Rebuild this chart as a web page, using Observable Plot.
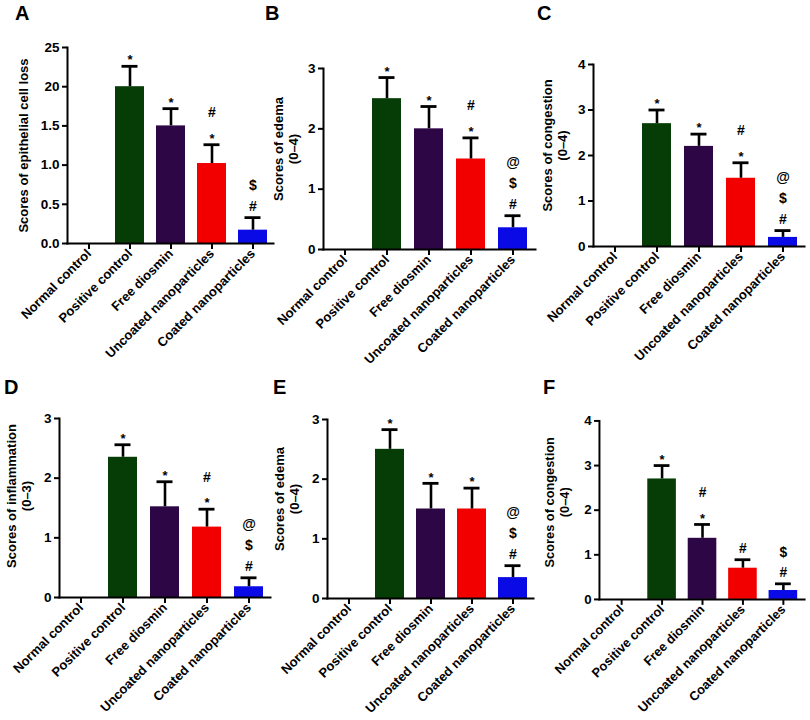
<!DOCTYPE html>
<html><head><meta charset="utf-8">
<script src="https://cdn.jsdelivr.net/npm/d3@7"></script>
<script src="https://cdn.jsdelivr.net/npm/@observablehq/plot@0.6"></script>
<style>
body{margin:0;background:#fff;}
#wrap{position:relative;width:810px;height:720px;overflow:hidden;font-family:"Liberation Sans",Arial,sans-serif;background:#fff;}
.panel{position:absolute;}
.letter{position:absolute;font-weight:bold;font-size:20px;line-height:1;font-family:"Liberation Sans",Arial,sans-serif;}
</style></head><body><div id="wrap"></div>
<script>
// ---- data ----
const groups = ["Normal control","Positive control","Free diosmin","Uncoated nanoparticles","Coated nanoparticles"];
const barColors = ["#ffffff","#063d06","#2d0645","#f20000","#0a0ae6"];

const meanA = [0, 2.0, 1.5, 1.02, 0.17];
const upperA = [0, 2.26, 1.72, 1.26, 0.33];
const sigA = ["", "*", "*", "*#", "#$"];
const ticksA = [0, 0.5, 1, 1.5, 2, 2.5];
const tickLabelsA = ["0.0","0.5","1.0","1.5","20","25"];
const titleA = "Scores of epithelial cell loss";

const meanB = [0, 2.5, 2.0, 1.5, 0.36];
const upperB = [0, 2.85, 2.37, 1.85, 0.56];
const sigB = ["", "*", "*", "*#", "#$@"];
const ticksB = [0, 1, 2, 3];
const tickLabelsB = ["0","1","2","3"];
const titleB = "Scores of edema\n(0–4)";

const meanC = [0, 2.7, 2.2, 1.5, 0.2];
const upperC = [0, 3.0, 2.47, 1.84, 0.35];
const sigC = ["", "*", "*", "*#", "#$@"];
const ticksC = [0, 1, 2, 3, 4];
const tickLabelsC = ["0","1","2","3","4"];
const titleC = "Scores of congestion\n(0–4)";

const meanD = [0, 2.35, 1.52, 1.18, 0.18];
const upperD = [0, 2.56, 1.94, 1.48, 0.33];
const sigD = ["", "*", "*", "*#", "#$@"];
const ticksD = [0, 1, 2, 3];
const tickLabelsD = ["0","1","2","3"];
const titleD = "Scores of inflammation\n(0–3)";

const meanE = [0, 2.5, 1.5, 1.5, 0.35];
const upperE = [0, 2.83, 1.93, 1.85, 0.55];
const sigE = ["", "*", "*", "*", "#$@"];
const ticksE = [0, 1, 2, 3];
const tickLabelsE = ["0","1","2","3"];
const titleE = "Scores of edema\n(0–4)";

const meanF = [0, 2.7, 1.37, 0.7, 0.2];
const upperF = [0, 3.0, 1.68, 0.89, 0.35];
const sigF = ["", "*", "*#", "#", "#$"];
const ticksF = [0, 1, 2, 3, 4];
const tickLabelsF = ["0","1","2","3","4"];
const titleF = "Scores of congestion\n(0–4)";

const panels = [
  {letter:"A", mean:meanA, upper:upperA, sig:sigA, ticks:ticksA, labels:tickLabelsA, title:titleA},
  {letter:"B", mean:meanB, upper:upperB, sig:sigB, ticks:ticksB, labels:tickLabelsB, title:titleB},
  {letter:"C", mean:meanC, upper:upperC, sig:sigC, ticks:ticksC, labels:tickLabelsC, title:titleC},
  {letter:"D", mean:meanD, upper:upperD, sig:sigD, ticks:ticksD, labels:tickLabelsD, title:titleD},
  {letter:"E", mean:meanE, upper:upperE, sig:sigE, ticks:ticksE, labels:tickLabelsE, title:titleE},
  {letter:"F", mean:meanF, upper:upperF, sig:sigF, ticks:ticksF, labels:tickLabelsF, title:titleF}
];

// ---- layout (page pixels) ----
const layout = {
  A:{axisX:67, topY:47, zeroY:243, len:206, titleDx:-44, titleDy:0, lx:15, ly:6},
  B:{axisX:323, topY:68, zeroY:249, len:212, titleDx:-38, titleDy:-10, lx:265, ly:6},
  C:{axisX:593, topY:64, zeroY:246, len:211, titleDx:-39, titleDy:-10, lx:537, ly:6},
  D:{axisX:59, topY:418, zeroY:597, len:211, titleDx:-41, titleDy:-12, lx:4, ly:380},
  E:{axisX:327, topY:419, zeroY:598, len:206, titleDx:-41, titleDy:-10, lx:273, ly:380},
  F:{axisX:600, topY:421, zeroY:602, len:208, titleDx:-43, titleDy:-8, lx:543, ly:380}
};

const wrap = document.getElementById("wrap");
const padL = 75, padT = 40, padR = 6, padB = 130;

for (const p of panels) {
  const L = layout[p.letter];
  const data = groups.map((g, i) => ({g, mean: p.mean[i], upper: p.upper[i], color: barColors[i]}));
  const withBar = data.filter(d => d.mean > 0);
  const syms = [];
  groups.forEach((g, i) => [...p.sig[i]].forEach((s, k) => syms.push({g, upper: p.upper[i], s, k})));
  const symMarks = [];
  for (let k = 0; k < 3; k++) {
    for (const star of [true, false]) {
      const sub = syms.filter(d => d.k === k && (d.s === "*") === star);
      if (!sub.length) continue;
      symMarks.push(Plot.text(sub, {x:"g", y:"upper", text:"s", dy: -(11 + 21*k) + (star ? 5 : 0),
        fontSize: star ? 13 : 14, fontWeight:"bold"}));
    }
  }
  const ymax = p.ticks[p.ticks.length - 1];
  const plotH = L.zeroY - L.topY;
  const chart = Plot.plot({
    width: padL + L.len + padR,
    height: padT + plotH + padB,
    marginLeft: padL, marginRight: padR, marginTop: padT, marginBottom: padB,
    style: {background:"transparent", overflow:"visible", fontFamily:"'Liberation Sans', Arial, sans-serif", fontWeight:"bold", fontSize:"13px", color:"#000"},
    x: {domain: groups, paddingInner: 0.3, paddingOuter: 0.157, align: 0.5, axis: null},
    y: {domain: [0, ymax], axis: null},
    color: {type: "identity"},
    marks: [
      Plot.barY(withBar, {x:"g", y:"mean", fill:"color"}),
      Plot.ruleX(withBar, {x:"g", y1:"mean", y2:"upper", stroke:"#000", strokeWidth:2.6}),
      Plot.tickY(withBar, {x:"g", y:"upper", stroke:"#000", strokeWidth:2.8, insetLeft:6.5, insetRight:6.5}),
      Plot.frame({anchor:"left", stroke:"#000", strokeWidth:2}),
      Plot.frame({anchor:"bottom", stroke:"#000", strokeWidth:2}),
      Plot.axisY({ticks: p.ticks, tickFormat: d => p.labels[p.ticks.indexOf(d)], tickSize:5, tickPadding:3, strokeWidth:2, fontSize:13.5, fontWeight:"bold", label:null}),
      Plot.axisX({tickSize:6, tickPadding:2, tickRotate:-45, strokeWidth:2, fontSize:13, fontWeight:"bold", label:null}),
      Plot.text([p.title], {frameAnchor:"left", text: d => d, rotate:-90, textAnchor:"middle", lineAnchor:"middle", dx: L.titleDx, dy: L.titleDy, fontSize:13, fontWeight:"bold", lineHeight:1.15}),
      ...symMarks
    ]
  });
  const div = document.createElement("div");
  div.className = "panel";
  div.style.left = (L.axisX - padL) + "px";
  div.style.top = (L.topY - padT) + "px";
  div.appendChild(chart);
  wrap.appendChild(div);
  const let_ = document.createElement("div");
  let_.className = "letter";
  let_.textContent = p.letter;
  let_.style.left = L.lx + "px";
  let_.style.top = (L.ly - 3) + "px";
  wrap.appendChild(let_);
}
</script></body></html>
